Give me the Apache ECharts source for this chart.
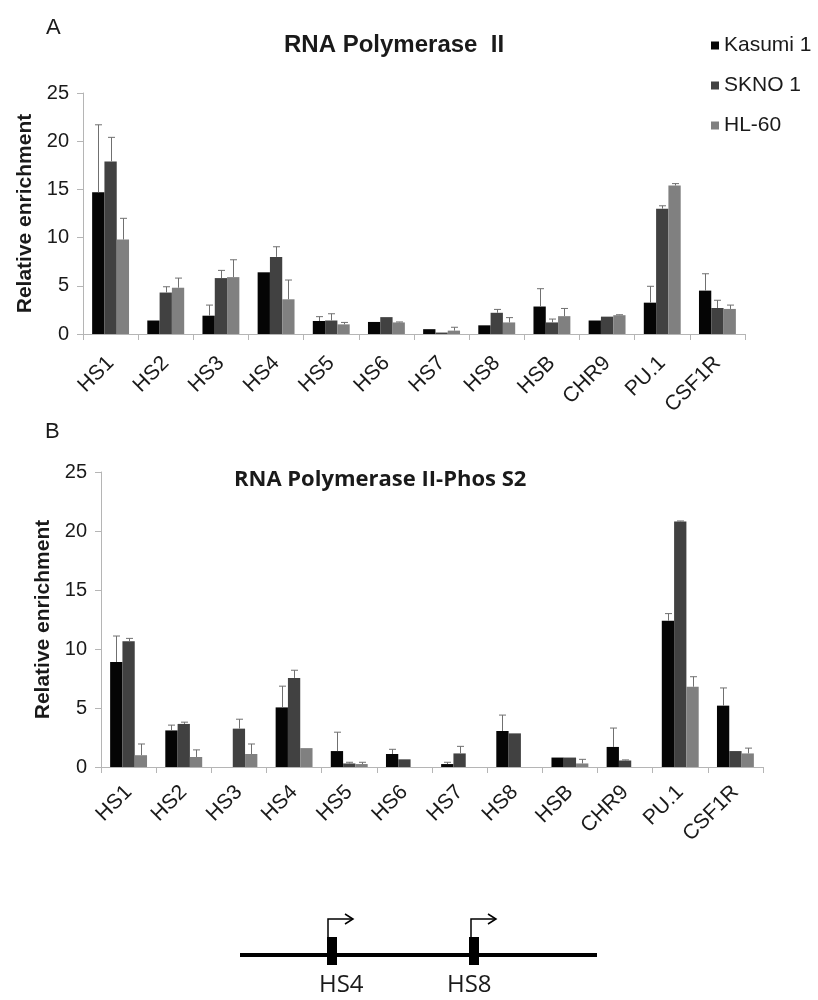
<!DOCTYPE html>
<html>
<head>
<meta charset="utf-8">
<script src="https://cdn.jsdelivr.net/npm/echarts@6/dist/echarts.min.js"></script>
<style>html,body{margin:0;padding:0;background:#fff;}#c{width:818px;height:1000px;}</style>
</head>
<body>
<div id="c"></div>
<script>
const categories = ['HS1','HS2','HS3','HS4','HS5','HS6','HS7','HS8','HSB','CHR9','PU.1','CSF1R'];
const seriesNames = ['Kasumi 1','SKNO 1','HL-60'];
const yTicks = [0,5,10,15,20,25];

// Panel A: RNA Polymerase II
const kasumiA   = [14.7, 1.4, 1.9, 6.4, 1.35, 1.25, 0.5, 0.9, 2.85, 1.4, 3.25, 4.5];
const kasumiAsd = [7.0, 0, 1.1, 0, 0.45, 0, 0, 0, 1.85, 0, 1.7, 1.75];
const sknoA     = [17.9, 4.3, 5.8, 8.0, 1.4, 1.75, 0.15, 2.2, 1.2, 1.8, 13.0, 2.7];
const sknoAsd   = [2.5, 0.6, 0.8, 1.05, 0.7, 0, 0, 0.35, 0.35, 0, 0.3, 0.8];
const hlA       = [9.8, 4.8, 5.9, 3.6, 1.0, 1.2, 0.35, 1.2, 1.85, 1.95, 15.4, 2.6];
const hlAsd     = [2.2, 1.0, 1.8, 2.0, 0.2, 0.05, 0.35, 0.5, 0.8, 0.05, 0.2, 0.4];

// Panel B: RNA Polymerase II-Phos S2
const kasumiB   = [8.9, 3.1, 0, 5.05, 1.35, 1.1, 0.25, 3.05, 0.8, 1.7, 12.4, 5.2];
const kasumiBsd = [2.2, 0.45, 0, 1.8, 1.6, 0.4, 0.15, 1.35, 0, 1.6, 0.6, 1.5];
const sknoB     = [10.65, 3.65, 3.25, 7.55, 0.3, 0.65, 1.15, 2.85, 0.8, 0.55, 20.8, 1.35];
const sknoBsd   = [0.25, 0.15, 0.8, 0.65, 0.1, 0, 0.6, 0, 0, 0.05, 0.05, 0];
const hlB       = [1.0, 0.85, 1.1, 1.6, 0.25, 0, 0, 0, 0.3, 0, 6.8, 1.15];
const hlBsd     = [0.95, 0.6, 0.85, 0, 0.15, 0, 0, 0, 0.35, 0, 0.85, 0.45];

const colors = ['#050505', '#414141', '#808080'];
const BAR_W = 12.3;

function errData(vals, sds, k) {
  const out = [];
  vals.forEach((v, i) => { if (sds[i] > 0) out.push([i, v, v + sds[i], k]); });
  return out;
}
function errSeries(idx, data) {
  return {
    type: 'custom', xAxisIndex: idx, yAxisIndex: idx, z: 5, silent: true,
    data: data,
    encode: { x: 0, y: [1, 2] },
    renderItem: function (params, api) {
      const base = api.coord([api.value(0), api.value(1)]);
      const top = api.coord([api.value(0), api.value(2)]);
      const x = Math.round(base[0] + (api.value(3) - 1) * BAR_W) + 0.5;
      const st = { stroke: '#707070', lineWidth: 1 };
      return { type: 'group', children: [
        { type: 'line', shape: { x1: x, y1: base[1], x2: x, y2: top[1] }, style: st },
        { type: 'line', shape: { x1: x - 3.5, y1: top[1], x2: x + 3.5, y2: top[1] }, style: st }
      ]};
    }
  };
}
function barSeries(idx, k, vals) {
  return { name: seriesNames[k], type: 'bar', xAxisIndex: idx, yAxisIndex: idx,
    data: vals, barWidth: BAR_W, barGap: '0%', itemStyle: { color: colors[k] } };
}

const axisCommonX = (idx, margin) => ({
  type: 'category', gridIndex: idx, data: categories,
  axisLine: { lineStyle: { color: '#b5b5b5', width: 1 } },
  axisTick: { show: true, length: 6, lineStyle: { color: '#b5b5b5' } },
  axisLabel: { rotate: 45, fontSize: 21, color: '#1a1a1a', margin: margin, interval: 0, fontFamily: 'Liberation Sans, Arial' }
});
const axisCommonY = (idx) => ({
  type: 'value', gridIndex: idx, min: yTicks[0], max: yTicks[yTicks.length - 1], interval: 5,
  name: 'Relative enrichment', nameLocation: 'middle', nameGap: 46,
  nameTextStyle: { fontSize: 21, fontWeight: 'bold', color: '#1a1a1a', fontFamily: 'Liberation Sans, Arial' },
  axisLine: { show: true, lineStyle: { color: '#b5b5b5', width: 1 } },
  axisTick: { show: true, length: 6, lineStyle: { color: '#b5b5b5' } },
  axisLabel: { fontSize: 20, color: '#1a1a1a', margin: 14, fontFamily: 'Liberation Sans, Arial' },
  splitLine: { show: false }
});

const chart = echarts.init(document.getElementById('c'), null, { renderer: 'canvas' });
chart.setOption({
  backgroundColor: '#ffffff',
  animation: false,
  title: [
    { text: 'A', left: 41, top: 12, textStyle: { fontSize: 22, fontWeight: 'normal', color: '#1a1a1a', fontFamily: 'Liberation Sans, Arial' } },
    { text: 'RNA Polymerase  II', left: 279, top: 28, textStyle: { fontSize: 24, fontWeight: 'bold', color: '#1a1a1a', fontFamily: 'Liberation Sans, Arial' } },
    { text: 'B', left: 40, top: 416, textStyle: { fontSize: 22, fontWeight: 'normal', color: '#1a1a1a', fontFamily: 'Liberation Sans, Arial' } },
    { text: 'RNA Polymerase II-Phos S2', left: 229, top: 464, textStyle: { fontSize: 22, fontWeight: 'bold', color: '#1a1a1a', fontFamily: 'Open Sans, Noto Sans' } }
  ],
  legend: {
    orient: 'vertical', left: 706, top: 30, itemGap: 19, icon: 'rect', itemWidth: 8, itemHeight: 8,
    data: seriesNames,
    textStyle: { fontSize: 21, color: '#1a1a1a', fontFamily: 'Liberation Sans, Arial', padding: [0, 0, 0, 0] }
  },
  grid: [
    { left: 83, right: 73, top: 93, bottom: 666 },
    { left: 101, right: 55, top: 472, bottom: 233 }
  ],
  xAxis: [axisCommonX(0, 26), axisCommonX(1, 22)],
  yAxis: [axisCommonY(0), axisCommonY(1)],
  series: [
    barSeries(0, 0, kasumiA), barSeries(0, 1, sknoA), barSeries(0, 2, hlA),
    errSeries(0, errData(kasumiA, kasumiAsd, 0).concat(errData(sknoA, sknoAsd, 1), errData(hlA, hlAsd, 2))),
    barSeries(1, 0, kasumiB), barSeries(1, 1, sknoB), barSeries(1, 2, hlB),
    errSeries(1, errData(kasumiB, kasumiBsd, 0).concat(errData(sknoB, sknoBsd, 1), errData(hlB, hlBsd, 2)))
  ],
  graphic: [
    { type: 'line', shape: { x1: 240, y1: 955, x2: 597, y2: 955 }, style: { stroke: '#000', lineWidth: 4 } },
    { type: 'rect', shape: { x: 327, y: 937, width: 10, height: 28 }, style: { fill: '#000' } },
    { type: 'rect', shape: { x: 469, y: 937, width: 10, height: 28 }, style: { fill: '#000' } },
    { type: 'polyline', shape: { points: [[328, 937], [328, 919], [352, 919]] }, style: { stroke: '#000', lineWidth: 1.5, fill: null } },
    { type: 'polyline', shape: { points: [[345, 914], [353, 919], [345, 924]] }, style: { stroke: '#000', lineWidth: 1.5, fill: null } },
    { type: 'polyline', shape: { points: [[471, 937], [471, 919], [495, 919]] }, style: { stroke: '#000', lineWidth: 1.5, fill: null } },
    { type: 'polyline', shape: { points: [[488, 914], [496, 919], [488, 924]] }, style: { stroke: '#000', lineWidth: 1.5, fill: null } },
    { type: 'text', left: 319, top: 973, style: { text: 'HS4', fontSize: 24, fill: '#1a1a1a', fontFamily: 'Open Sans, Noto Sans' } },
    { type: 'text', left: 447, top: 973, style: { text: 'HS8', fontSize: 24, fill: '#1a1a1a', fontFamily: 'Open Sans, Noto Sans' } }
  ]
});
</script>
</body>
</html>
